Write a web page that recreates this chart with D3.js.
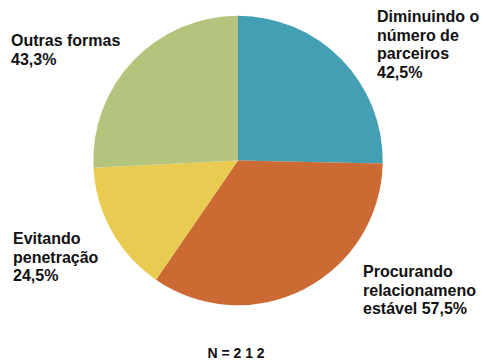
<!DOCTYPE html>
<html>
<head>
<meta charset="utf-8">
<script src="https://cdn.jsdelivr.net/npm/d3@7"></script>
<style>
  html, body { margin: 0; padding: 0; background: #ffffff; }
  svg text { font-family: "Liberation Sans", Arial, sans-serif; font-weight: bold; fill: #111; }
</style>
</head>
<body>
<svg id="chart" width="483" height="363"></svg>
<script>
// Slice data, clockwise from 12 o'clock
const categories = ["Diminuindo o número de parceiros", "Procurando relacionameno estável", "Evitando penetração", "Outras formas"];
const values = [42.5, 57.5, 24.5, 43.3];
const colors = ["#439fb4", "#cb6a33", "#e8cb50", "#b5c47c"];
// Label lines for each slice
const labelLines = [
  ["Diminuindo o", "número de", "parceiros", "42,5%"],
  ["Procurando", "relacionameno", "estável 57,5%"],
  ["Evitando", "penetração", "24,5%"],
  ["Outras formas", "43,3%"]
];
const labelPos = [[377, 22], [363, 277], [13, 244], [11, 46]];
const footnote = "N = 2 1 2";

const svg = d3.select("#chart");
const cx = 238, cy = 160.5, r = 144.7;

const pie = d3.pie().sort(null).value(d => d.value);
const arc = d3.arc().innerRadius(0).outerRadius(r);
const data = categories.map((c, i) => ({ name: c, value: values[i], color: colors[i] }));

const g = svg.append("g").attr("transform", `translate(${cx},${cy})`);
g.selectAll("path")
  .data(pie(data))
  .join("path")
  .attr("d", arc)
  .attr("fill", d => d.data.color);

labelLines.forEach((lines, i) => {
  const t = svg.append("text")
    .attr("x", labelPos[i][0])
    .attr("y", labelPos[i][1])
    .attr("font-size", 16);
  lines.forEach((ln, j) => {
    t.append("tspan")
      .attr("x", labelPos[i][0])
      .attr("y", labelPos[i][1] + j * 18.5)
      .text(ln);
  });
});

svg.append("text")
  .attr("x", 236)
  .attr("y", 358)
  .attr("text-anchor", "middle")
  .attr("font-size", 14)
  .text(footnote);
</script>
</body>
</html>
